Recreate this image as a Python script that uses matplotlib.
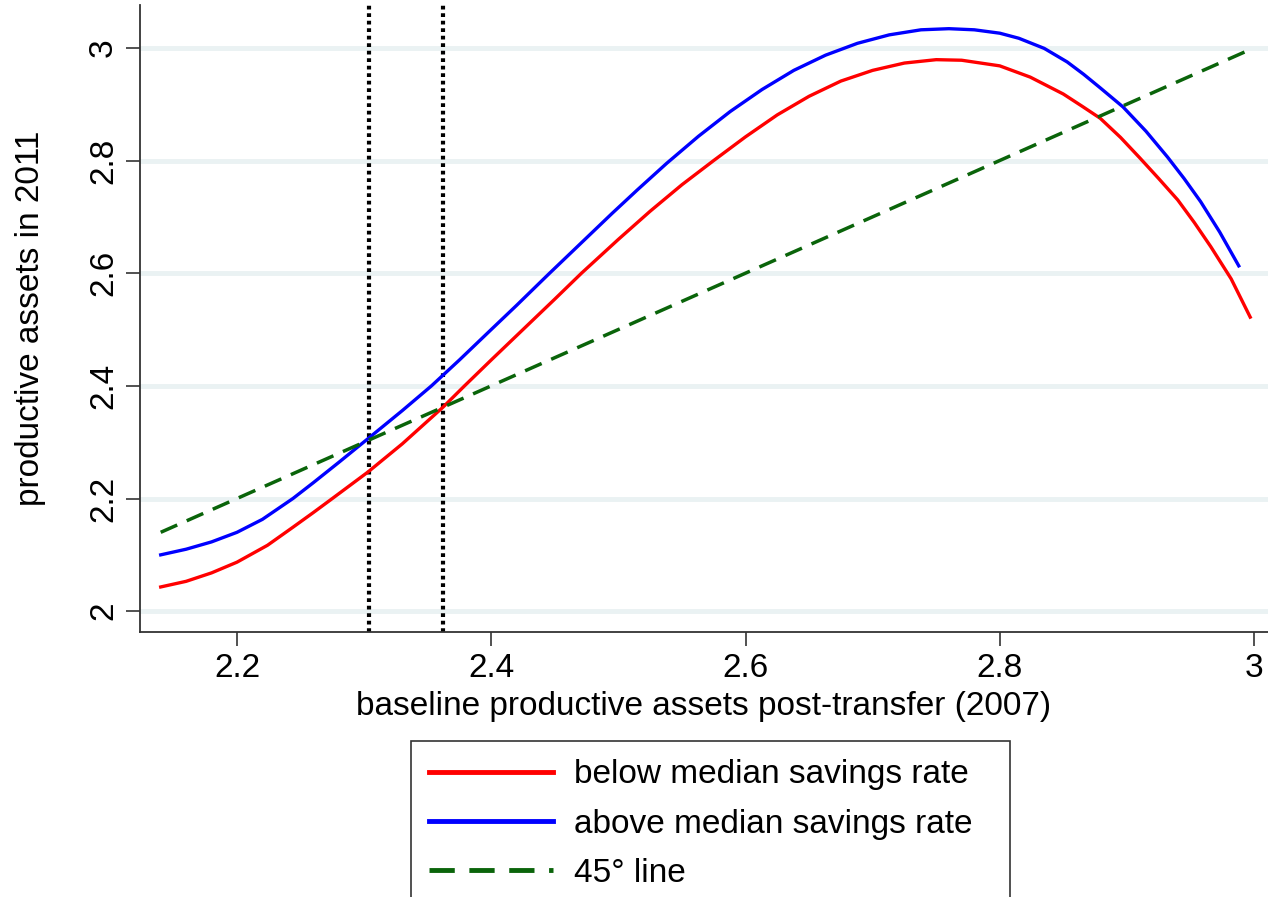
import numpy as np
import matplotlib
matplotlib.use('Agg')
import matplotlib.pyplot as plt

plt.rcParams['font.family'] = ['Liberation Sans', 'DejaVu Sans']

## Fitted curves: 2011 assets against baseline assets (2007)
x_below = [2.140, 2.160, 2.180, 2.200, 2.224, 2.244, 2.260, 2.275, 2.303, 2.330,
           2.362, 2.379, 2.400, 2.425, 2.450, 2.471, 2.500, 2.525, 2.550, 2.575,
           2.600, 2.625, 2.650, 2.675, 2.700, 2.725, 2.750, 2.770, 2.800, 2.824,
           2.850, 2.865, 2.879, 2.895, 2.910, 2.925, 2.940, 2.953, 2.966, 2.982,
           2.997]
y_below = [2.043, 2.053, 2.068, 2.087, 2.117, 2.149, 2.175, 2.200, 2.247, 2.297,
           2.362, 2.400, 2.446, 2.500, 2.554, 2.600, 2.660, 2.710, 2.757, 2.800,
           2.842, 2.881, 2.914, 2.941, 2.960, 2.973, 2.979, 2.978, 2.968, 2.948,
           2.918, 2.896, 2.875, 2.841, 2.805, 2.768, 2.730, 2.690, 2.647, 2.590,
           2.522]

x_above = [2.140, 2.160, 2.180, 2.200, 2.220, 2.244, 2.260, 2.280, 2.304, 2.330,
           2.353, 2.375, 2.400, 2.420, 2.445, 2.470, 2.495, 2.515, 2.538, 2.563,
           2.588, 2.613, 2.638, 2.663, 2.688, 2.713, 2.738, 2.760, 2.780, 2.800,
           2.815, 2.835, 2.853, 2.866, 2.879, 2.897, 2.915, 2.932, 2.945, 2.958,
           2.973, 2.988]
y_above = [2.100, 2.110, 2.123, 2.140, 2.163, 2.200, 2.228, 2.264, 2.308, 2.356,
           2.400, 2.446, 2.500, 2.543, 2.598, 2.652, 2.706, 2.748, 2.795, 2.843,
           2.887, 2.926, 2.960, 2.987, 3.008, 3.023, 3.032, 3.034, 3.032, 3.026,
           3.017, 2.999, 2.975, 2.953, 2.929, 2.895, 2.852, 2.806, 2.768, 2.727,
           2.673, 2.613]

x_45 = [2.140, 2.995]
cutoffs = [2.304, 2.362]

xticks = [2.2, 2.4, 2.6, 2.8, 3.0]
xtick_labels = ['2.2', '2.4', '2.6', '2.8', '3']
yticks = [2.0, 2.2, 2.4, 2.6, 2.8, 3.0]
ytick_labels = ['2', '2.2', '2.4', '2.6', '2.8', '3']

fig = plt.figure(figsize=(12.68, 8.97), dpi=100)
ax = fig.add_axes([0.1104, 0.2954, 0.8896, 0.699])

for c in cutoffs:
    ax.axvline(c, color='black', lw=3, linestyle=(0, (0.9, 0.9)), zorder=2)

l1, = ax.plot(x_below, y_below, color='#ff0000', lw=2.4, zorder=3)
l2, = ax.plot(x_above, y_above, color='#0000ff', lw=2.4, zorder=3)
l3, = ax.plot(x_45, x_45, color='#0a640a', lw=2.5, dashes=(5.2, 3.0), zorder=3)

ax.set_xlim(2.1237, 3.011)
ax.set_ylim(1.963, 3.076)
ax.set_xticks(xticks)
ax.set_xticklabels(xtick_labels, fontsize=24)
ax.set_yticks(yticks)
ax.set_yticklabels(ytick_labels, fontsize=24, rotation=90, va='center')
ax.tick_params(length=10, width=1.2, color='#333333', pad=5)

ax.grid(axis='y', color='#eaf2f3', lw=3.5)
ax.set_axisbelow(True)
for s in ['top', 'right']:
    ax.spines[s].set_visible(False)
for s in ['left', 'bottom']:
    ax.spines[s].set_linewidth(1.3)
    ax.spines[s].set_color('#333333')

ax.set_xlabel('baseline productive assets post-transfer (2007)', fontsize=24, labelpad=5)
ax.set_ylabel('productive assets in 2011', fontsize=24, labelpad=30)

# trailing spaces widen the box on the right like the original legend
leg = fig.legend([l1, l2, l3],
                 ['below median savings rate  ', 'above median savings rate  ', '45° line'],
                 loc='upper left', bbox_to_anchor=(411 / 1268, 1 - 741 / 897),
                 fontsize=24, frameon=True, fancybox=False, edgecolor='black',
                 handlelength=3.7, handletextpad=0.65, labelspacing=0.55,
                 borderpad=0.55, borderaxespad=0)
leg.get_frame().set_linewidth(1.2)
for h in leg.legend_handles:
    h.set_linewidth(3.5)

fig.savefig('out.png', dpi=100)
